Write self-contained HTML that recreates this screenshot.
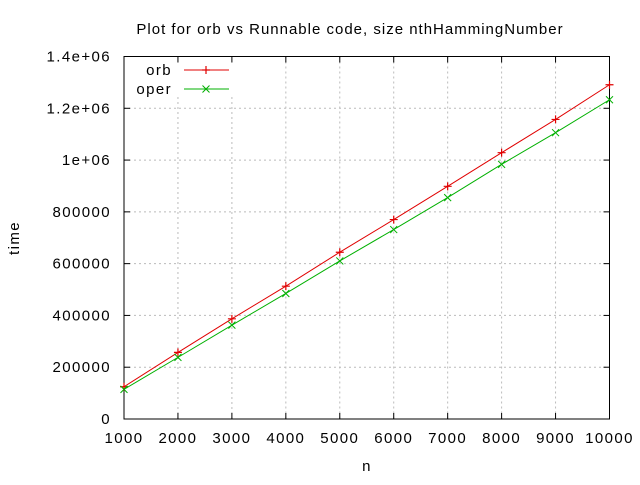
<!DOCTYPE html>
<html><head><meta charset="utf-8"><style>
body{margin:0;background:#fff}
svg text{font-family:"Liberation Sans",sans-serif;font-size:15px;fill:#000;letter-spacing:1.4px}
svg text.title{letter-spacing:1px}
</style></head><body>
<svg id="chart" width="640" height="480">
<text class="title" x="350" y="34" text-anchor="middle">Plot for orb vs Runnable code, size nthHammingNumber</text>
<text x="19" y="238" text-anchor="middle" transform="rotate(-90 19 238)">time</text>
<text x="367" y="471" text-anchor="middle">n</text>
<g id="grid"></g><g id="axes"></g><g id="series"></g><g id="legend"></g>
</svg>
<script>
const xVals=[1000,2000,3000,4000,5000,6000,7000,8000,9000,10000];
const orbVals=[124600,257200,386900,513000,644100,770200,898600,1028600,1157000,1290900];
const operVals=[114500,238000,362500,484800,610500,731600,855000,983500,1105700,1233000];
const xTicks=[1000,2000,3000,4000,5000,6000,7000,8000,9000,10000];
const yTicks=[0,200000,400000,600000,800000,1000000,1200000,1400000];
const yLabels=["0","200000","400000","600000","800000","1e+06","1.2e+06","1.4e+06"];
const L=124,R=609.5,T=56.5,B=419;
const sx=v=>L+(v-1000)/9000*(R-L), sy=v=>B-v/1400000*(B-T);
const NS="http://www.w3.org/2000/svg";
function mk(p,t,a){const e=document.createElementNS(NS,t);for(const k in a)e.setAttribute(k,a[k]);p.appendChild(e);return e;}
const grid=document.getElementById('grid'),axes=document.getElementById('axes'),ser=document.getElementById('series'),leg=document.getElementById('legend');
xTicks.forEach((v,i)=>{const x=sx(v);
 if(i>0&&i<xTicks.length-1){const g=mk(grid,'line',{x1:x,x2:x,y1:(x<235?97:T),y2:B,stroke:'#bbb','stroke-dasharray':'2,3'});
 
 }
 const t=mk(axes,'text',{x:x,y:443,'text-anchor':'middle'});t.textContent=v;
 
 
 mk(axes,'line',{x1:x,x2:x,y1:B,y2:B-6,stroke:'#000'});mk(axes,'line',{x1:x,x2:x,y1:T,y2:T+6,stroke:'#000'});
});
yTicks.forEach((v,i)=>{const y=sy(v);
 if(i>0&&i<yTicks.length-1){const g=mk(grid,'line',{x1:L,x2:R,y1:y,y2:y,stroke:'#bbb','stroke-dasharray':'2,3'});
 
 }
 const t=mk(axes,'text',{x:111,y:y+5,'text-anchor':'end'});t.textContent=yLabels[i];
 
 
 mk(axes,'line',{x1:L,x2:L+6,y1:y,y2:y,stroke:'#000'});mk(axes,'line',{x1:R,x2:R-6,y1:y,y2:y,stroke:'#000'});
});
const fr=mk(axes,'rect',{x:L,y:T,width:R-L,height:B-T,fill:'none',stroke:'#000'});


function plus(g,x,y,c){mk(g,'path',{d:`M${x-4},${y}h8M${x},${y-4}v8`,stroke:c,'stroke-width':1.2});}
function cross(g,x,y,c){mk(g,'path',{d:`M${x-3.5},${y-3.5}l7,7M${x-3.5},${y+3.5}l7,-7`,stroke:c,'stroke-width':1});}
function series(vals,c,mark,name){const g=mk(ser,'g',{});
 
 
 mk(g,'polyline',{points:vals.map((v,i)=>sx(xVals[i])+','+sy(v)).join(' '),fill:'none',stroke:c,'stroke-width':1});
 vals.forEach((v,i)=>mark(g,sx(xVals[i]),sy(v),c));}
series(orbVals,'#e00000',plus,'orb-series');
series(operVals,'#00b000',cross,'oper-series');
[['orb','#e00000',plus,70],['oper','#00b000',cross,89]].forEach(([n,c,m,y])=>{
 const g=mk(leg,'g',{});
 
 
 const t=mk(g,'text',{x:172,y:y+5,'text-anchor':'end'});t.textContent=n;
 mk(g,'line',{x1:184,x2:229,y1:y,y2:y,stroke:c});m(g,206,y,c);});
</script>
</body></html>
